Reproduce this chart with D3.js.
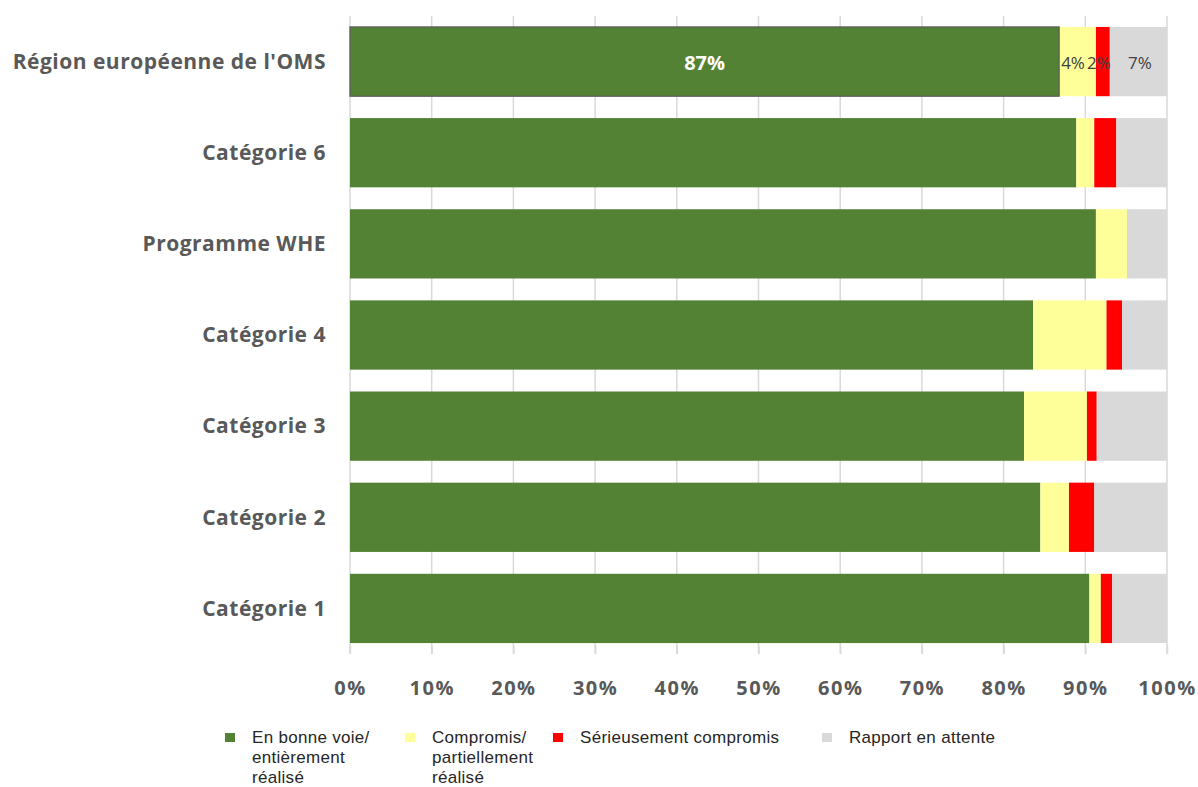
<!DOCTYPE html>
<html>
<head>
<meta charset="utf-8">
<script src="https://cdn.jsdelivr.net/npm/d3@7"></script>
<style>
  body { margin: 0; background: #fff; }
</style>
</head>
<body>
<div id="chart"></div>
<script>
// categories, top to bottom
const categories = ["Région européenne de l'OMS", "Catégorie 6", "Programme WHE", "Catégorie 4", "Catégorie 3", "Catégorie 2", "Catégorie 1"];
const seriesKeys = ["onTrack", "compromised", "serious", "pending"];
const seriesNames = [["En bonne voie/", "entièrement", "réalisé"], ["Compromis/", "partiellement", "réalisé"], ["Sérieusement compromis"], ["Rapport en attente"]];
const onTrack     = [86.8, 88.9, 91.3, 83.6, 82.5, 84.5, 90.5];
const compromised = [4.5, 2.2, 3.8, 9.0, 7.7, 3.5, 1.4];
const serious     = [1.7, 2.7, 0.0, 1.9, 1.2, 3.1, 1.4];
const pending     = [7.0, 6.2, 4.9, 5.5, 8.6, 8.9, 6.7];
const tickValues = [0, 10, 20, 30, 40, 50, 60, 70, 80, 90, 100];
const topLabels = ["87%", "4%", "2%", "7%"];

const width = 1198, height = 787;
const colors = ["#548235", "#FFFF99", "#FF0000", "#D9D9D9"];

const data = categories.map((c, i) => ({
    category: c,
    onTrack: onTrack[i],
    compromised: compromised[i],
    serious: serious[i],
    pending: pending[i]
}));

const svg = d3.select("#chart").append("svg")
    .attr("width", width)
    .attr("height", height);

const x = d3.scaleLinear().domain([0, 100]).range([350, 1167]);
const y = d3.scaleBand().domain(categories).range([16, 654]).paddingInner(0.24).paddingOuter(0.12);

// vertical gridlines
svg.append("g")
    .selectAll("line")
    .data(tickValues)
    .join("line")
    .attr("x1", d => x(d)).attr("x2", d => x(d))
    .attr("y1", 16).attr("y2", 654)
    .attr("stroke", "#d9d9d9")
    .attr("stroke-width", 1.5);

const stack = d3.stack().keys(seriesKeys)(data);

svg.append("g")
    .selectAll("g")
    .data(stack)
    .join("g")
    .attr("fill", (d, i) => colors[i])
    .selectAll("rect")
    .data(d => d)
    .join("rect")
    .attr("x", d => x(d[0]))
    .attr("y", d => y(d.data.category))
    .attr("width", d => x(d[1]) - x(d[0]))
    .attr("height", y.bandwidth());

// outline on the selected green segment of the top bar
svg.append("rect")
    .attr("x", x(0))
    .attr("y", y(categories[0]))
    .attr("width", x(stack[0][0][1]) - x(0))
    .attr("height", y.bandwidth())
    .attr("fill", "none")
    .attr("stroke", "#595959")
    .attr("stroke-width", 1.2);

// data labels on the top bar
const topY = y(categories[0]) + y.bandwidth() / 2 + 1;
const labelShift = [0, -4.5, -4, 1.5];
stack.forEach((s, i) => {
    const seg = s[0];
    svg.append("text")
        .attr("x", (x(seg[0]) + x(seg[1])) / 2 + labelShift[i])
        .attr("y", topY)
        .attr("dy", "0.35em")
        .attr("text-anchor", "middle")
        .attr("font-family", "'Open Sans', sans-serif")
        .attr("font-size", i === 0 ? "20px" : "17px")
        .attr("font-weight", i === 0 ? "bold" : "normal")
        .attr("fill", i === 0 ? "#fff" : "#404040")
        .text(topLabels[i]);
});

// category labels
svg.append("g")
    .selectAll("text")
    .data(categories)
    .join("text")
    .attr("x", 326)
    .attr("y", d => y(d) + y.bandwidth() / 2)
    .attr("dy", "0.35em")
    .attr("text-anchor", "end")
    .attr("font-family", "'Open Sans', sans-serif")
    .attr("font-size", "21px")
    .attr("letter-spacing", "0.5px")
    .attr("font-weight", "bold")
    .attr("fill", "#595959")
    .text(d => d);

// x axis
const xAxis = svg.append("g")
    .attr("transform", "translate(0,646)")
    .call(d3.axisBottom(x).tickValues(tickValues).tickFormat(d => d + "%").tickSize(8).tickPadding(27));
xAxis.select(".domain").remove();
xAxis.selectAll("line").attr("stroke", "#d9d9d9").attr("stroke-width", 1.5);
xAxis.selectAll("text")
    .attr("font-family", "'Open Sans', sans-serif")
    .attr("font-size", "20px")
    .attr("letter-spacing", "1.5px")
    .attr("font-weight", "bold")
    .attr("fill", "#595959");

// legend
const legendX = [225, 405, 553, 822];
const legend = svg.append("g");
seriesNames.forEach((lines, i) => {
    legend.append("rect")
        .attr("x", legendX[i])
        .attr("y", 733)
        .attr("width", 10)
        .attr("height", 9)
        .attr("fill", colors[i]);
    const t = legend.append("text")
        .attr("x", legendX[i] + 27)
        .attr("y", 743)
        .attr("font-family", "'Liberation Sans', Arial, sans-serif")
        .attr("font-size", "17px")
        .attr("letter-spacing", "0.3px")
        .attr("fill", "#262626");
    lines.forEach((l, j) => {
        t.append("tspan")
            .attr("x", legendX[i] + 27)
            .attr("dy", j === 0 ? 0 : 20)
            .text(l);
    });
});
</script>
</body>
</html>
